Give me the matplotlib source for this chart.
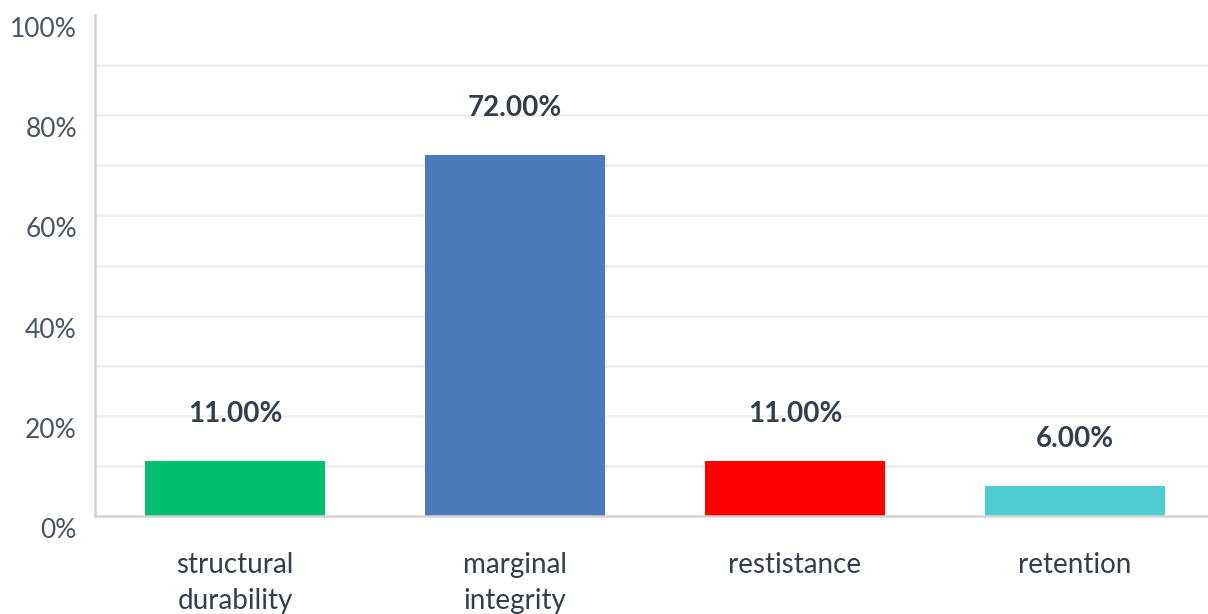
import matplotlib.pyplot as plt
from matplotlib.transforms import ScaledTranslation

# Datos
categorias = ["structural\ndurability", "marginal\nintegrity", "restistance", "retention"]
valores = [11.00, 72.00, 11.00, 6.00]
colores = ["#00BF6F", "#4A7ABC", "#FF0000", "#4ECCD0"]
ticks_y = [0, 20, 40, 60, 80, 100]
etiquetas_y = ["0%", "20%", "40%", "60%", "80%", "100%"]

plt.rcParams["font.family"] = ["Lato", "DejaVu Sans"]

fig = plt.figure(figsize=(12.08, 6.14), dpi=100)
ax = fig.add_axes([95 / 1208, 98 / 614, 1120 / 1208, 501 / 614])

x = list(range(len(categorias)))
ax.bar(x, valores, width=0.64, color=colores, zorder=3)

# Líneas de cuadrícula cada 10%
for v in range(10, 100, 10):
    ax.axhline(v, color="#EDEEEE", linewidth=1.8, zorder=1)

ax.set_xlim(-0.5, 3.5)
ax.set_ylim(0, 100)

# Etiquetas de valor sobre las barras
for xi, v in zip(x, valores):
    ax.annotate(f"{v:.2f}%", (xi, v), xytext=(0, 34), textcoords="offset points",
                ha="center", va="center", fontsize=20, fontweight="bold",
                color="#333E48")

ax.set_xticks(x)
ax.set_xticklabels(categorias, fontsize=20, color="#333E48", linespacing=1.45)
ax.tick_params(axis="x", length=0, pad=26)

ax.set_yticks(ticks_y)
ax.set_yticklabels(etiquetas_y, fontsize=19, color="#4A5560")
ax.tick_params(axis="y", length=0, pad=13)
desplazamiento = ScaledTranslation(0, -12 / 100, fig.dpi_scale_trans)
for lbl in ax.get_yticklabels():
    lbl.set_transform(lbl.get_transform() + desplazamiento)

for lado in ["top", "right"]:
    ax.spines[lado].set_visible(False)
for lado in ["left", "bottom"]:
    ax.spines[lado].set_color("#D3D3D3")
    ax.spines[lado].set_linewidth(1.8)
    ax.spines[lado].set_zorder(4)

fig.savefig("out.png", dpi=100, facecolor="white")
